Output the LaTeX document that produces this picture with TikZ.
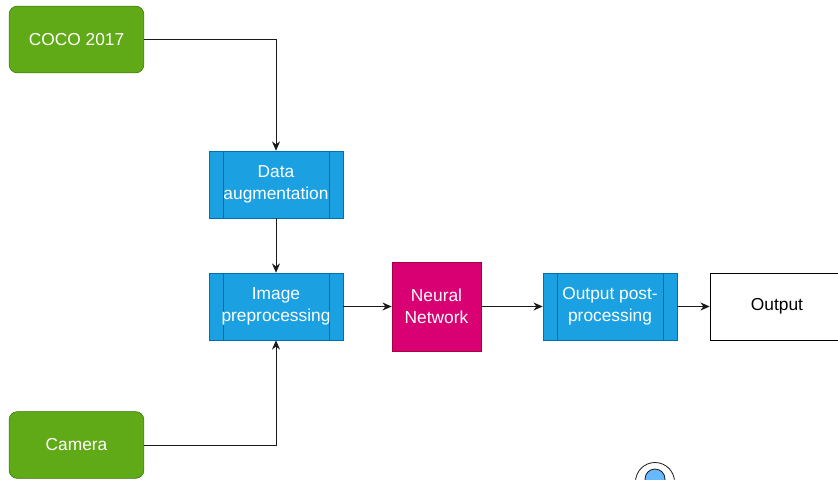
\documentclass[tikz,border=0pt]{standalone}
\usepackage{fontspec}
\setmainfont{Liberation Sans}
\usepackage{tikz}
\usetikzlibrary{arrows.meta}

\definecolor{srcfill}{HTML}{60A917}
\definecolor{srcline}{HTML}{2D7600}
\definecolor{procfill}{HTML}{1BA1E2}
\definecolor{procline}{HTML}{006EAF}
\definecolor{netfill}{HTML}{D80073}
\definecolor{netline}{HTML}{A50040}
\definecolor{flowline}{HTML}{1A1A1A}
\definecolor{dotfill}{HTML}{66B8FF}

\begin{document}
\begin{tikzpicture}[x=0.75pt,y=-0.75pt,
    every node/.style={font=\fontsize{13}{16.5}\selectfont, align=center},
    source/.style={draw=srcline, fill=srcfill, text=white, rounded corners=6pt,
        minimum width=101pt, minimum height=50pt},
    process/.style={draw=procline, fill=procfill, text=white,
        minimum width=100.5pt, minimum height=50.25pt,
        path picture={
            \draw[procline] ([xshift=10.5pt]path picture bounding box.north west) -- ([xshift=10.5pt]path picture bounding box.south west);
            \draw[procline] ([xshift=-10.5pt]path picture bounding box.north east) -- ([xshift=-10.5pt]path picture bounding box.south east);
        }},
    network/.style={draw=netline, fill=netfill, text=white,
        minimum width=66.75pt, minimum height=66.75pt},
    result/.style={draw=black, fill=white, text=black,
        minimum width=100.5pt, minimum height=50.25pt},
    flow/.style={draw=flowline, line width=0.75pt, -{Stealth[length=7pt,width=6pt]}}]
    \useasboundingbox (0,0) rectangle (838,479);
    \clip (0,0) rectangle (838,479);

    % inputs
    \node[source] (coco) at (76.5,39.5) {COCO 2017};
    \node[source] (camera) at (76.5,445) {Camera};

    % pipeline
    \node[process] (augment) at (276,184.5) {Data\\augmentation};
    \node[process] (preproc) at (276,306.5) {Image\\preprocessing};
    \node[network] (net) at (436.5,306.5) {Neural\\Network};
    \node[process] (postproc) at (610,306.5) {Output post-\\processing};
    \node[result] (output) at (777,306.5) {Output};

    % connectors
    \draw[flow] (coco.east) -| (augment.north);
    \draw[flow] (augment) -- (preproc);
    \draw[flow] (camera.east) -| (preproc.south);
    \draw[flow] (preproc) -- (net);
    \draw[flow] (net) -- (postproc);
    \draw[flow] (postproc) -- (output);

    % marker at the bottom edge
    \draw[flowline, line width=0.6pt] (655,482) circle (19.5);
    \draw[flowline, fill=dotfill, line width=0.6pt] (655,479) circle (10);
\end{tikzpicture}
\end{document}
